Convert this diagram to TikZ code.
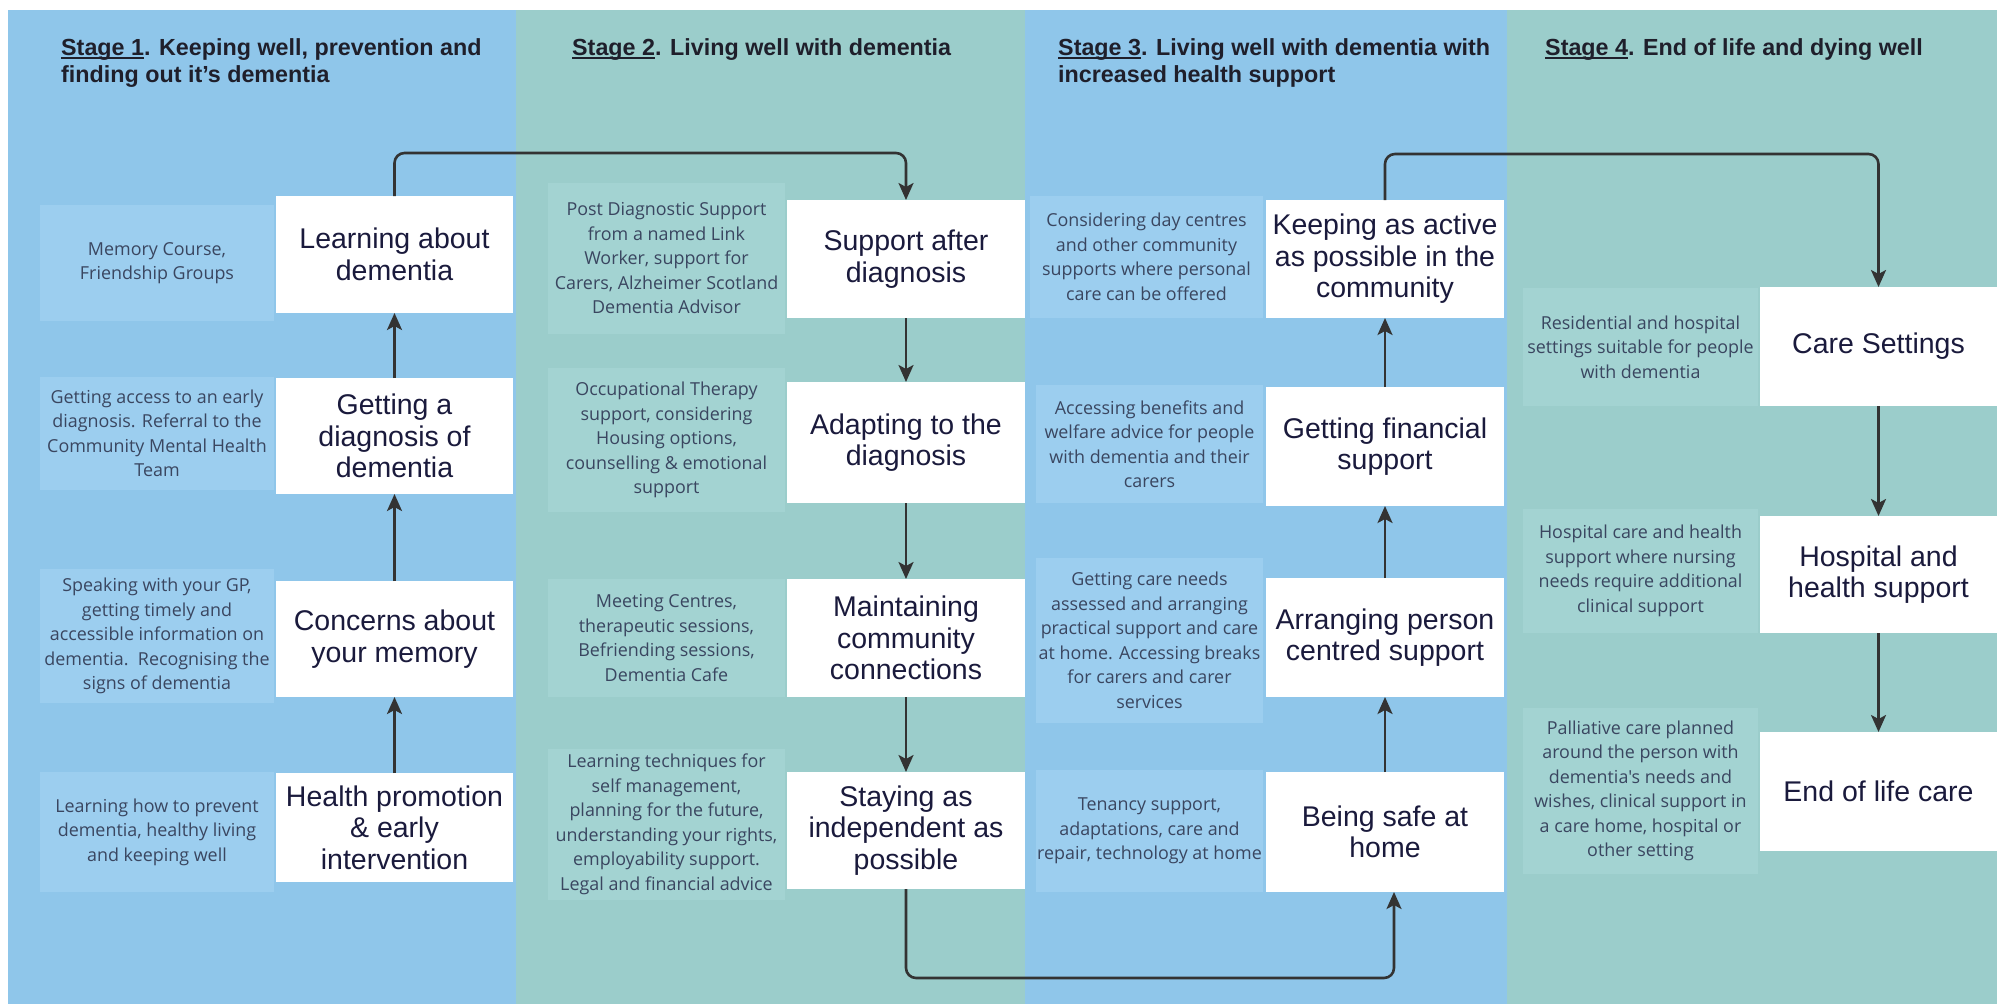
\documentclass[tikz,border=0pt]{standalone}
\usepackage{fontspec}
\setmainfont{Liberation Sans}
\newfontfamily\descfont{Open Sans}
\usetikzlibrary{arrows.meta}
\definecolor{bgblue}{HTML}{8FC6EA}
\definecolor{bgteal}{HTML}{9BCDCB}
\definecolor{dscblue}{HTML}{9CCEEF}
\definecolor{dscteal}{HTML}{A3D3D2}
\definecolor{ttl}{HTML}{1F1F2B}
\definecolor{boxtxt}{HTML}{1A1A3C}
\definecolor{dsctxt}{HTML}{3A4660}
\definecolor{lnk}{HTML}{333333}
\newcommand\stg[1]{\setbox0\hbox{#1}\rlap{\rule[-4pt]{\wd0}{1.8pt}}\box0}
\newcommand\rbox[7]{\node[#1, minimum width={(#5-#3)*1pt}, minimum height={(#6-#4)*1pt}] (#2) at ({(#3+#5)/2},{(#4+#6)/2}) {#7};}
\tikzset{
  wbox/.style={fill=white, inner sep=0pt, outer sep=0pt, align=center, text=boxtxt, font=\fontsize{28.5}{31.5}\selectfont},
  dbox/.style={inner sep=0pt, outer sep=0pt, align=center, text=dsctxt, font=\descfont\fontsize{17.9}{24.5}\selectfont},
  dblue/.style={dbox, fill=dscblue},
  dteal/.style={dbox, fill=dscteal},
  heading/.style={anchor=north west, inner sep=0pt, align=left, text=ttl, font=\bfseries\fontsize{23.3}{27}\selectfont},
  link/.style={draw=lnk, line width=2.6pt, rounded corners=10pt, -{Stealth[length=17pt,width=15pt,inset=4pt]}},
}
\begin{document}
\begin{tikzpicture}[x=1pt,y=-1pt]
\useasboundingbox (0,0) rectangle (1997,1004);
\fill[white] (0,0) rectangle (1997,1004);
% stage panels
\fill[bgblue] (8,10) rectangle (516,1004);
\fill[bgteal] (516,10) rectangle (1025,1004);
\fill[bgblue] (1025,10) rectangle (1507,1004);
\fill[bgteal] (1507,10) rectangle (1997,1004);
% headings
\node[heading] (h1) at (61,38) {\stg{Stage 1}. Keeping well, prevention and\\finding out it's dementia};
\node[heading] (h2) at (572,38) {\stg{Stage 2}. Living well with dementia};
\node[heading] (h3) at (1058,38) {\stg{Stage 3}. Living well with dementia with\\increased health support};
\node[heading] (h4) at (1545,38) {\stg{Stage 4}. End of life and dying well};
% stage 1
\rbox{dblue}{d11}{40}{205}{274}{321}{Memory Course,\\Friendship Groups}
\rbox{dblue}{d12}{40}{377}{274}{490}{Getting access to an early\\diagnosis. Referral to the\\Community Mental Health\\Team}
\rbox{dblue}{d13}{40}{569}{274}{703}{Speaking with your GP,\\getting timely and\\accessible information on\\dementia.\ \ Recognising the\\signs of dementia}
\rbox{dblue}{d14}{40}{772}{274}{892}{Learning how to prevent\\dementia, healthy living\\and keeping well}
\rbox{wbox}{w11}{276}{196}{513}{313}{Learning about\\dementia}
\rbox{wbox}{w12}{276}{378}{513}{494}{Getting a\\diagnosis of\\dementia}
\rbox{wbox}{w13}{276}{581}{513}{697}{Concerns about\\your memory}
\rbox{wbox}{w14}{276}{773}{513}{882}{Health promotion\\\& early\\intervention}
% stage 2
\rbox{dteal}{d21}{548}{183}{785}{334}{Post Diagnostic Support\\from a named Link\\Worker, support for\\Carers, Alzheimer Scotland\\Dementia Advisor}
\rbox{dteal}{d22}{548}{368}{785}{512}{Occupational Therapy\\support, considering\\Housing options,\\counselling \& emotional\\support}
\rbox{dteal}{d23}{548}{579}{785}{697}{Meeting Centres,\\therapeutic sessions,\\Befriending sessions,\\Dementia Cafe}
\rbox{dteal}{d24}{548}{749}{785}{900}{Learning techniques for\\self management,\\planning for the future,\\understanding your rights,\\employability support.\\Legal and financial advice}
\rbox{wbox}{w21}{787}{200}{1025}{318}{Support after\\diagnosis}
\rbox{wbox}{w22}{787}{382}{1025}{503}{Adapting to the\\diagnosis}
\rbox{wbox}{w23}{787}{579}{1025}{697}{Maintaining\\community\\connections}
\rbox{wbox}{w24}{787}{772}{1025}{889}{Staying as\\independent as\\possible}
% stage 3
\rbox{dblue}{d31}{1030}{196}{1263}{318}{Considering day centres\\and other community\\supports where personal\\care can be offered}
\rbox{dblue}{d32}{1036}{385}{1263}{503}{Accessing benefits and\\welfare advice for people\\with dementia and their\\carers}
\rbox{dblue}{d33}{1036}{558}{1263}{723}{Getting care needs\\assessed and arranging\\practical support and care\\at home. Accessing breaks\\for carers and carer\\services}
\rbox{dblue}{d34}{1036}{770}{1263}{892}{Tenancy support,\\adaptations, care and\\repair, technology at home}
\rbox{wbox}{w31}{1266}{200}{1504}{318}{Keeping as active\\as possible in the\\community}
\rbox{wbox}{w32}{1266}{387}{1504}{506}{Getting financial\\support}
\rbox{wbox}{w33}{1266}{578}{1504}{697}{Arranging person\\centred support}
\rbox{wbox}{w34}{1266}{772}{1504}{892}{Being safe at\\home}
% stage 4
\rbox{dteal}{d41}{1523}{288}{1758}{406}{Residential and hospital\\settings suitable for people\\with dementia}
\rbox{dteal}{d42}{1523}{509}{1758}{633}{Hospital care and health\\support where nursing\\needs require additional\\clinical support}
\rbox{dteal}{d43}{1523}{708}{1758}{874}{Palliative care planned\\around the person with\\dementia's needs and\\wishes, clinical support in\\a care home, hospital or\\other setting}
\rbox{wbox}{w41}{1760}{287}{1997}{406}{Care Settings}
\rbox{wbox}{w42}{1760}{516}{1997}{633}{Hospital and\\health support}
\rbox{wbox}{w43}{1760}{732}{1997}{851}{End of life care}
% connectors
\coordinate (t1) at (650,153);
\coordinate (t2) at (1150,978);
\coordinate (t3) at (1600,154);
\draw[link] (w14.north) -- (w13.south);
\draw[link] (w13.north) -- (w12.south);
\draw[link] (w12.north) -- (w11.south);
\draw[link] (w11.north) |- (t1) -| (w21.north);
\draw[link] (w21.south) -- (w22.north);
\draw[link] (w22.south) -- (w23.north);
\draw[link] (w23.south) -- (w24.north);
\draw[link] (w24.south) |- (t2) -| ([xshift=9pt]w34.south);
\draw[link] (w34.north) -- (w33.south);
\draw[link] (w33.north) -- (w32.south);
\draw[link] (w32.north) -- (w31.south);
\draw[link] (w31.north) |- (t3) -| (w41.north);
\draw[link] (w41.south) -- (w42.north);
\draw[link] (w42.south) -- (w43.north);
\end{tikzpicture}
\end{document}
